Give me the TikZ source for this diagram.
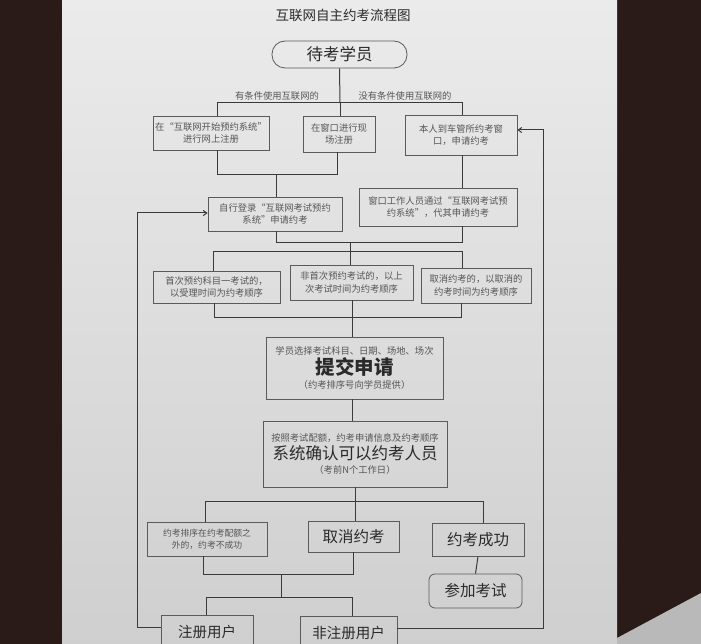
\documentclass[tikz,border=0pt]{standalone}
\usepackage{fontspec}
\setmainfont{Noto Sans CJK SC}
\usetikzlibrary{arrows.meta}
\definecolor{paperhi}{HTML}{EBEBEB}
\definecolor{paperlo}{HTML}{CFCFCF}
\definecolor{darkbg}{HTML}{2A1B19}
\definecolor{linec}{HTML}{3A3A3A}
\definecolor{boxc}{HTML}{5A5A5A}
\definecolor{txtc}{HTML}{555555}
\definecolor{bigtxt}{HTML}{2A2A2A}
\begin{document}
\begin{tikzpicture}[x=1pt,y=-1pt,
  box/.style={draw=boxc,line width=0.8pt,inner sep=1pt,align=center,text=txtc,
    font=\fontsize{9.3}{12.5}\selectfont},
  bigbox/.style={box,text=bigtxt,font=\fontsize{15.5}{18}\selectfont},
  conn/.style={draw=linec,line width=1pt},
  arr/.style={conn,-{Straight Barb[length=3.5pt,width=5pt]}},
  lab/.style={text=txtc,font=\fontsize{9.3}{11}\selectfont,inner sep=0pt}]
\useasboundingbox (0,0) rectangle (701,644);
% photo background
\fill[darkbg] (0,0) rectangle (701,644);
\shade[top color=paperhi,bottom color=paperlo] (62,0) rectangle (617,644);
\fill[gray!55] (617,638) -- (701,593) -- (701,644) -- (617,644) -- cycle;
% title
\node[text=bigtxt,font=\fontsize{13.5}{15}\selectfont] (title) at (343,15) {互联网自主约考流程图};
% nodes
\node[bigbox,rounded corners=13pt,minimum width=135pt,minimum height=27pt,font=\fontsize{16.5}{18}\selectfont] (start) at (339.5,54.5) {待考学员};
\node[lab] (lyes) at (277,96) {有条件使用互联网的};
\node[lab] (lno) at (405,96) {没有条件使用互联网的};
\node[box,minimum width=116pt,minimum height=34pt] (b1) at (211,133) {在“互联网开始预约系统”\\进行网上注册};
\node[box,minimum width=72pt,minimum height=36pt] (b2) at (339,134) {在窗口进行现\\场注册};
\node[box,minimum width=112pt,minimum height=40pt] (b3) at (461,135) {本人到车管所约考窗\\口，申请约考};
\node[box,minimum width=134pt,minimum height=34pt] (b4) at (275,214) {自行登录“互联网考试预约\\系统”申请约考};
\node[box,minimum width=158pt,minimum height=38pt] (b5) at (438,207) {窗口工作人员通过“互联网考试预\\约系统”，代其申请约考};
\node[box,minimum width=127pt,minimum height=32pt] (b6) at (216.5,287) {首次预约科目一考试的，\\以受理时间为约考顺序};
\node[box,minimum width=123pt,minimum height=35pt] (b7) at (351.5,282.5) {非首次预约考试的，以上\\次考试时间为约考顺序};
\node[box,minimum width=110pt,minimum height=35pt] (b8) at (476,285.5) {取消约考的，以取消的\\约考时间为约考顺序};
\node[box,minimum width=177pt,minimum height=62pt] (b9) at (354.5,368) {学员选择考试科目、日期、场地、场次\\[1pt]{\color{bigtxt}\fontsize{19.5}{22}\selectfont\bfseries 提交申请}\\[1pt]（约考排序号向学员提供）};
\node[box,minimum width=184pt,minimum height=66pt] (b10) at (355,454) {按照考试配额，约考申请信息及约考顺序\\[2pt]{\color{bigtxt}\fontsize{16.5}{19}\selectfont 系统确认可以约考人员}\\[2pt]（考前N个工作日）};
\node[box,minimum width=120pt,minimum height=34pt,font=\fontsize{8.8}{12}\selectfont] (b11) at (207,539) {约考排序在约考配额之\\外的，约考不成功};
\node[bigbox,minimum width=91pt,minimum height=31pt] (cancel) at (353.5,536.5) {取消约考};
\node[bigbox,minimum width=92pt,minimum height=33pt] (succ) at (478,539.5) {约考成功};
\node[bigbox,rounded corners=6pt,minimum width=93pt,minimum height=34pt] (exam) at (475.5,591) {参加考试};
\node[bigbox,minimum width=92pt,minimum height=42pt,font=\fontsize{14.5}{16}\selectfont,text depth=10pt] (reg) at (207,636) {注册用户};
\node[bigbox,minimum width=97pt,minimum height=42pt,font=\fontsize{14.5}{16}\selectfont,text depth=10pt] (nreg) at (348.5,637) {非注册用户};
% junction coordinates
\coordinate (j1) at (340,103);
\coordinate (j1l) at (217,103);
\coordinate (j1r) at (462,103);
\coordinate (j2) at (276,175);
\coordinate (j2l) at (217,175);
\coordinate (j2r) at (337,175);
\coordinate (j3) at (350,243);
\coordinate (j3l) at (276,243);
\coordinate (j3r) at (462,243);
\coordinate (j4) at (350,252);
\coordinate (j4l) at (213,252);
\coordinate (j4r) at (462,252);
\coordinate (j5) at (352,317);
\coordinate (j5l) at (214,317);
\coordinate (j5r) at (461,317);
\coordinate (j6) at (355,501);
\coordinate (j6l) at (205,501);
\coordinate (j6r) at (483,501);
\coordinate (j7) at (281,574);
\coordinate (j7l) at (203,574);
\coordinate (j7r) at (353,574);
\coordinate (j8) at (281,597);
\coordinate (j8l) at (206,597);
\coordinate (j8r) at (352,597);
\coordinate (lb) at (137,627);
\coordinate (lt) at (137,213);
\coordinate (rb) at (543,628);
\coordinate (rt) at (543,130);
% connectors
\draw[conn] (start.south) -- (j1);
\draw[conn] (j1l |- b1.north) -- (j1l) -- (j1r) -- (j1r |- b3.north);
\draw[conn] (j1) -- (j1 |- b2.north);
\draw[conn] (j2l |- b1.south) -- (j2l) -- (j2r) -- (j2r |- b2.south);
\draw[conn] (j2) -- (j2 |- b4.north);
\draw[conn] (j1r |- b3.south) -- (j1r |- b5.north);
\draw[conn] (j3l |- b4.south) -- (j3l) -- (j3r) -- (j3r |- b5.south);
\draw[conn] (j3) -- (j4);
\draw[conn] (j4l |- b6.north) -- (j4l) -- (j4r) -- (j4r |- b8.north);
\draw[conn] (j4) -- (j4 |- b7.north);
\draw[conn] (j5l |- b6.south) -- (j5l) -- (j5r) -- (j5r |- b8.south);
\draw[conn] (j5 |- b7.south) -- (j5 |- b9.north);
\draw[conn] (j5 |- b9.south) -- (j5 |- b10.north);
\draw[conn] (j6 |- b10.south) -- (j6);
\draw[conn] (j6l |- b11.north) -- (j6l) -- (j6r) -- (j6r |- succ.north);
\draw[conn] (j6) -- (j6 |- cancel.north);
\draw[conn] (succ.south) -- (exam.north);
\draw[conn] (j7l |- b11.south) -- (j7l) -- (j7r) -- (j7r |- cancel.south);
\draw[conn] (j7) -- (j8);
\draw[conn] (j8l |- reg.north) -- (j8l) -- (j8r) -- (j8r |- nreg.north);
\draw[arr] (reg.west |- lb) -- (lb) -- (lt) -- (lt -| b4.west);
\draw[arr] (nreg.east |- rb) -- (rb) -- (rt) -- (rt -| b3.east);
\end{tikzpicture}
\end{document}
